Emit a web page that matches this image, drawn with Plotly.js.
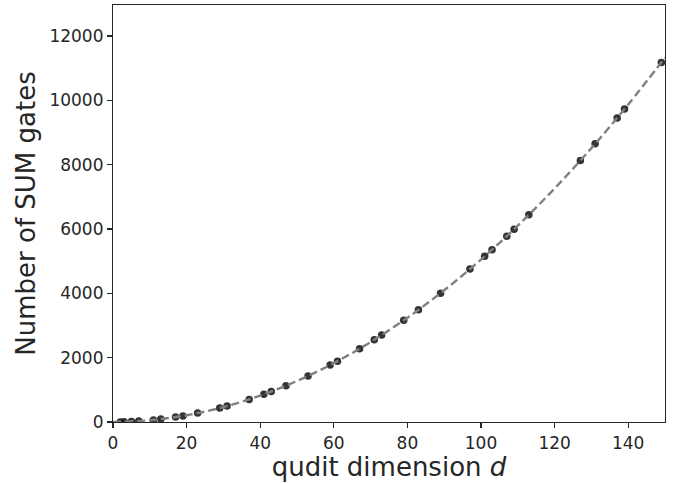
<!DOCTYPE html>
<html>
<head>
<meta charset="utf-8">
<script src="https://cdn.plot.ly/plotly-3.0.1.min.js"></script>
<style>html,body{margin:0;padding:0;background:#fff;}#chart{width:676px;height:483px;}</style>
</head>
<body>
<div id="chart"></div>
<script>
// Data points: qudit dimension d (primes) and number of SUM gates
const dims = [2, 3, 5, 7, 11, 13, 17, 19, 23, 29, 31, 37, 41, 43, 47, 53, 59, 61, 67, 71, 73, 79, 83, 89, 97, 101, 103, 107, 109, 113, 127, 131, 137, 139, 149];
const gates = [3, 6, 15, 28, 66, 91, 153, 190, 276, 435, 496, 703, 861, 946, 1128, 1431, 1770, 1891, 2278, 2556, 2701, 3160, 3486, 4005, 4753, 5151, 5356, 5778, 5995, 6441, 8128, 8646, 9453, 9730, 11175];
// Dashed fit curve
const fitD = [0, 10, 20, 30, 40, 50, 60, 70, 80, 90, 100, 110, 120, 130, 140, 150];
const fitGates = [0, 55, 210, 465, 820, 1275, 1830, 2485, 3240, 4095, 5050, 6105, 7260, 8515, 9870, 11325];
const xTicks = [0, 20, 40, 60, 80, 100, 120, 140];
const yTicks = [0, 2000, 4000, 6000, 8000, 10000, 12000];

const txt = '#262626';
const traces = [
  {x: dims, y: gates, type: 'scatter', mode: 'markers',
   marker: {color: '#1e1e1e', size: 7.5, opacity: 0.9, line: {width: 0}}, showlegend: false, hoverinfo: 'skip'},
  {x: fitD, y: fitGates, type: 'scatter', mode: 'lines',
   line: {color: '#808080', width: 2.4, dash: '8px,4px', shape: 'spline'}, showlegend: false, hoverinfo: 'skip'}
];
const layout = {
  width: 676, height: 483,
  margin: {l: 113, r: 11, t: 5, b: 61},
  paper_bgcolor: '#fff', plot_bgcolor: '#fff',
  font: {family: 'DejaVu Sans', color: txt, size: 17},
  xaxis: {
    range: [0, 150], tickvals: xTicks, ticktext: xTicks.map(String),
    showgrid: false, zeroline: false, showline: true, mirror: true,
    linecolor: txt, linewidth: 1.1, ticks: 'outside', ticklen: 5, tickwidth: 1.1, tickcolor: txt,
    tickfont: {size: 17, color: txt},
    title: {text: 'qudit dimension <i>d</i>', font: {size: 26, color: txt}, standoff: 4}
  },
  yaxis: {
    range: [0, 12963], tickvals: yTicks, ticktext: yTicks.map(String),
    showgrid: false, zeroline: false, showline: true, mirror: true,
    linecolor: txt, linewidth: 1.1, ticks: 'outside', ticklen: 5, tickwidth: 1.1, tickcolor: txt,
    tickfont: {size: 17, color: txt},
    title: {text: 'Number of SUM gates', font: {size: 26, color: txt}, standoff: 6}
  }
};
Plotly.newPlot('chart', traces, layout, {displayModeBar: false, staticPlot: true});
</script>
</body>
</html>
